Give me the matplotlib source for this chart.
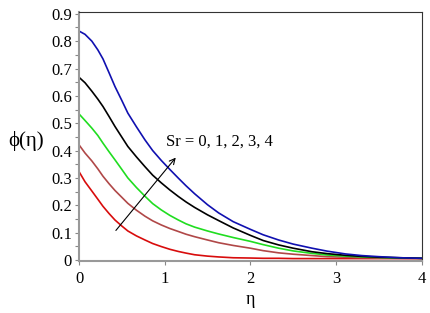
import matplotlib
matplotlib.use("Agg")
import matplotlib.pyplot as plt
import numpy as np

plt.rcParams['font.family'] = ['Liberation Serif', 'DejaVu Serif']

# eta positions where the curves were read
eta = [0, 0.07, 0.15, 0.22, 0.28, 0.35, 0.42, 0.5, 0.57, 0.67, 0.77, 0.86, 0.96, 1.06, 1.16, 1.25,
       1.35, 1.5, 1.63, 1.8, 2.0, 2.15, 2.33, 2.5, 2.72, 2.9, 3.11, 3.3, 3.5, 3.75, 4.0]

# phi(eta) for Sr = 0, 1, 2, 3, 4
phi_sr0 = [0.323, 0.286, 0.252, 0.222, 0.196, 0.170, 0.146, 0.124, 0.106, 0.088, 0.073, 0.060, 0.049, 0.039, 0.031, 0.025,
           0.019, 0.014, 0.011, 0.008, 0.007, 0.006, 0.006, 0.005, 0.005, 0.005, 0.005, 0.005, 0.005, 0.005, 0.005]
phi_sr1 = [0.421, 0.391, 0.362, 0.333, 0.306, 0.279, 0.254, 0.229, 0.207, 0.182, 0.160, 0.143, 0.128, 0.115, 0.104, 0.094,
           0.085, 0.073, 0.063, 0.053, 0.043, 0.034, 0.026, 0.021, 0.016, 0.012, 0.010, 0.008, 0.007, 0.006, 0.005]
phi_sr2 = [0.534, 0.510, 0.482, 0.455, 0.427, 0.396, 0.366, 0.331, 0.300, 0.265, 0.233, 0.206, 0.183, 0.163, 0.146, 0.132,
           0.120, 0.106, 0.095, 0.082, 0.068, 0.056, 0.043, 0.033, 0.024, 0.018, 0.014, 0.011, 0.009, 0.007, 0.006]
phi_sr3 = [0.668, 0.648, 0.617, 0.588, 0.561, 0.525, 0.488, 0.449, 0.415, 0.377, 0.341, 0.310, 0.282, 0.256, 0.232, 0.212,
           0.192, 0.165, 0.144, 0.117, 0.090, 0.071, 0.055, 0.043, 0.030, 0.023, 0.017, 0.013, 0.010, 0.008, 0.006]
phi_sr4 = [0.837, 0.825, 0.800, 0.768, 0.735, 0.685, 0.634, 0.583, 0.537, 0.487, 0.439, 0.400, 0.364, 0.331, 0.299, 0.271,
           0.242, 0.202, 0.172, 0.140, 0.112, 0.092, 0.073, 0.058, 0.043, 0.032, 0.022, 0.016, 0.012, 0.008, 0.006]

series = [phi_sr0, phi_sr1, phi_sr2, phi_sr3, phi_sr4]
colors = ['#d80c0c', '#b04848', '#20dd20', '#000000', '#1010b0']

fig = plt.figure(figsize=(4.31, 3.13), dpi=100)
ax = fig.add_axes([0.1833, 0.166, 0.795, 0.796])

for s, c in zip(series, colors):
    ax.plot(eta, s, color=c, lw=1.2)

ax.set_xlim(0, 4)
ax.set_ylim(-0.004, 0.907)
ax.set_xticks([0, 1, 2, 3, 4])
yt = np.arange(0, 0.91, 0.1)
ax.set_yticks(yt)
ax.set_yticklabels(['0'] + ['%.1f' % v for v in yt[1:]])
ax.set_yticks(np.arange(0.05, 0.9, 0.1), minor=True)
ax.tick_params(axis='both', which='both', direction='out', length=3, width=0.8,
               color='#888888', labelsize=12, pad=2)
ax.tick_params(axis='x', pad=4)

for side in ['left', 'bottom']:
    ax.spines[side].set_color('#999999')
    ax.spines[side].set_linewidth(1.5)
for side in ['top', 'right']:
    ax.spines[side].set_color('#333333')
    ax.spines[side].set_linewidth(0.8)

ax.set_xlabel('η', fontsize=13, labelpad=3)
ax.set_ylabel('ϕ(η)', fontsize=15, rotation=0, ha='center', va='center')
ax.yaxis.set_label_coords(-0.155, 0.48)

ax.annotate('', xy=(1.15, 0.382), xytext=(0.41, 0.10),
            arrowprops=dict(arrowstyle='->', color='black', lw=0.8))
ax.text(1.02, 0.433, 'Sr = 0, 1, 2, 3, 4', fontsize=12, va='center', ha='left')

fig.savefig('out.png', dpi=100)
